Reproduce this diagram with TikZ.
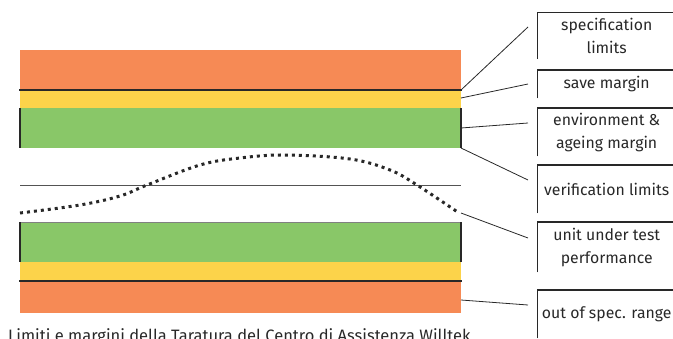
\documentclass[tikz,border=0pt]{standalone}
\usepackage{fontspec}
\setmainfont{Fira Sans}
\definecolor{bandorange}{RGB}{246,138,85}
\definecolor{bandyellow}{RGB}{252,211,74}
\definecolor{bandgreen}{RGB}{137,199,104}
\definecolor{inkgray}{RGB}{40,40,40}
\begin{document}
\begin{tikzpicture}[x=1pt,y=-1pt,
  labelbox/.style={anchor=north west, minimum width=138pt, align=center, inner sep=0pt,
    font=\fontsize{15.8}{23}\selectfont, text=inkgray},
  boxedge/.style={draw=inkgray, line width=1.4pt},
  leader/.style={draw=inkgray, line width=0.8pt},
  limitline/.style={draw=inkgray, line width=2pt}]
\useasboundingbox (0,0) rectangle (673,338);
% upper bands
\fill[bandorange] (20,50) rectangle (461,90);
\fill[bandyellow] (20,90) rectangle (461,108);
\fill[bandgreen] (20,108) rectangle (461,148);
\draw[limitline] (19,90) -- (462,90);
\draw[inkgray, line width=1.2pt] (20,108) -- (20,148) (461,108) -- (461,148);
% lower bands
\fill[bandgreen] (20,222) rectangle (461,262);
\fill[bandyellow] (20,262) rectangle (461,281);
\fill[bandorange] (20,281) rectangle (461,313);
\draw[gray, line width=0.8pt] (20,222) -- (461,222);
\draw[inkgray, line width=1.2pt] (20,222) -- (20,262) (461,222) -- (461,262);
\draw[limitline] (19,281) -- (462,281);
% verification line
\draw[inkgray!80, line width=0.8pt] (20,185) -- (461,185);
% dotted performance curve
\draw[inkgray, line width=3pt, dash pattern=on 3pt off 4pt]
  plot[smooth, tension=0.6] coordinates {(20,213) (80,205) (120,196) (147,185) (200,165) (240,158) (285,155) (350,159) (390,170) (417,185) (459,213)};
% anchor coordinates
\coordinate (s1) at (461,90);
\coordinate (s2) at (461,98);
\coordinate (s3) at (461,128);
\coordinate (s4) at (461,148);
\coordinate (s5) at (461,213);
\coordinate (s6) at (461,300);
\coordinate (e1) at (528,27);
\coordinate (e2) at (528,84);
\coordinate (e3) at (528,123);
\coordinate (e4) at (528,180);
\coordinate (e5) at (528,238);
\coordinate (e6) at (528,305);
% labels
\node[labelbox, minimum height=46pt] (L1) at (537.5,12.7) {specification\\limits};
\node[labelbox, minimum height=28pt] (L2) at (537.5,70) {save margin};
\node[labelbox, minimum height=48pt] (L3) at (537.5,108) {environment \&\\ageing margin};
\node[labelbox, minimum height=48pt] (L4) at (537.5,165) {verification limits};
\node[labelbox, minimum height=50pt] (L5) at (537.5,222) {unit under test\\performance};
\node[labelbox, minimum height=48pt] (L6) at (537.5,290) {out of spec. range};
\foreach \n in {L1,L2,L3,L4,L5,L6}{
  \draw[boxedge] (\n.south west) -- (\n.north west) -- ([xshift=10pt]\n.north east);
}
% leaders
\draw[leader] (s1) -- (e1);
\draw[leader] (s2) -- (e2);
\draw[leader] (s3) -- (e3);
\draw[leader] (s4) -- (e4);
\draw[leader] (s5) -- (e5);
\draw[leader] (s6) -- (e6);
% caption (cut off at bottom, as in the reference)
\node[anchor=base west, inner sep=0pt, font=\fontsize{16.5}{18}\selectfont, text=inkgray] (cap) at (8,341) {Limiti e margini della Taratura del Centro di Assistenza Willtek};
\end{tikzpicture}
\end{document}
